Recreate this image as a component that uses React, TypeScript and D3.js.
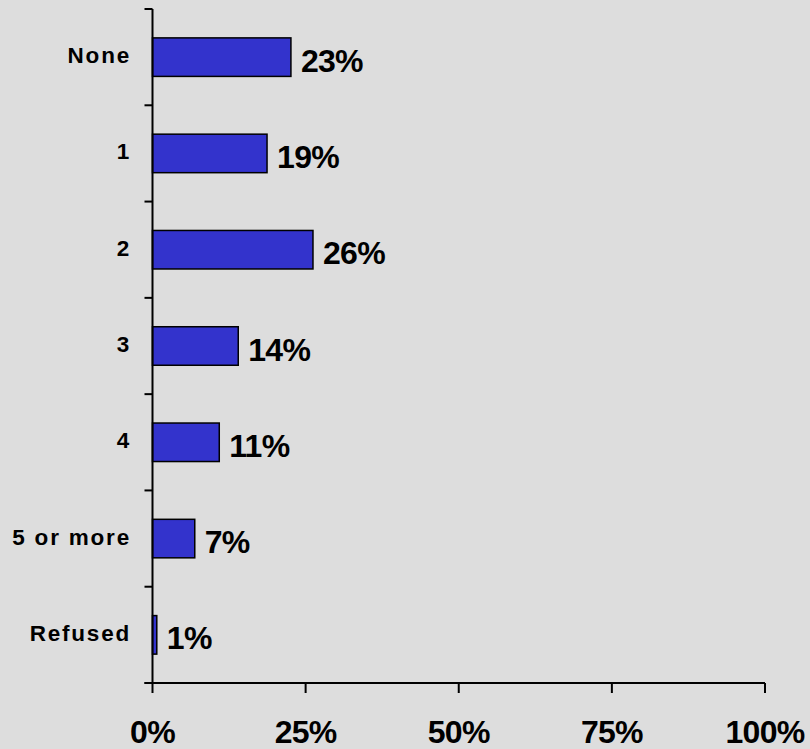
import React from "react";
import * as d3 from "d3";

const categories = ["None", "1", "2", "3", "4", "5 or more", "Refused"];
const values = [22.6, 18.7, 26.2, 14.0, 10.9, 6.9, 0.7];
const valueLabels = ["23%", "19%", "26%", "14%", "11%", "7%", "1%"];
const xTicks = [0, 25, 50, 75, 100];
const xTickLabels = ["0%", "25%", "50%", "75%", "100%"];

const W = 810;
const H = 749;
const left = 152.5;
const right = 765;
const top = 9;
const bottom = 683;

export default function App() {
  const x = d3.scaleLinear().domain([0, 100]).range([left, right]);
  const y = d3
    .scaleBand<string>()
    .domain(categories)
    .range([top, bottom])
    .paddingInner(0.6)
    .paddingOuter(0.3);
  const step = y.step();
  const boundaries = d3.range(categories.length + 1).map((i) => top + i * step);
  const font = "'Liberation Sans', Arial, sans-serif";

  return (
    <svg
      width={W}
      height={H}
      style={{ position: "absolute", left: 0, top: 0, background: "#dddddd" }}
    >
      <rect x={0} y={0} width={W} height={H} fill="#dddddd" />
      {categories.map((c, i) => {
        const by = y(c)!;
        const bh = y.bandwidth();
        const cy = by + bh / 2;
        return (
          <g key={c}>
            <rect
              x={x(0)}
              y={by}
              width={Math.max(0, x(values[i]) - x(0))}
              height={bh}
              fill="#3333cc"
              stroke="#000"
              strokeWidth={1.5}
            />
            <text
              x={x(values[i]) + 10}
              y={cy + 14.5}
              fontFamily={font}
              fontWeight="bold"
              fontSize={32}
              letterSpacing={-0.7}
              fill="#000"
            >
              {valueLabels[i]}
            </text>
            <text
              x={131}
              y={cy + 6}
              textAnchor="end"
              fontFamily={font}
              fontWeight="bold"
              fontSize={22.5}
              letterSpacing={1.8}
              fill="#000"
            >
              {c}
            </text>
          </g>
        );
      })}
      {/* y axis */}
      <line x1={left} x2={left} y1={top} y2={bottom} stroke="#000" strokeWidth={2} />
      {boundaries.map((b, i) => (
        <line key={i} x1={left - 8} x2={left} y1={b} y2={b} stroke="#000" strokeWidth={2} />
      ))}
      {/* x axis */}
      <line x1={left - 8} x2={right} y1={bottom} y2={bottom} stroke="#000" strokeWidth={2} />
      {xTicks.map((t, i) => (
        <g key={t}>
          <line x1={x(t)} x2={x(t)} y1={bottom} y2={bottom + 10} stroke="#000" strokeWidth={2} />
          <text
            x={x(t)}
            y={743}
            textAnchor="middle"
            fontFamily={font}
            fontWeight="bold"
            fontSize={32}
            letterSpacing={-0.7}
            fill="#000"
          >
            {xTickLabels[i]}
          </text>
        </g>
      ))}
    </svg>
  );
}
